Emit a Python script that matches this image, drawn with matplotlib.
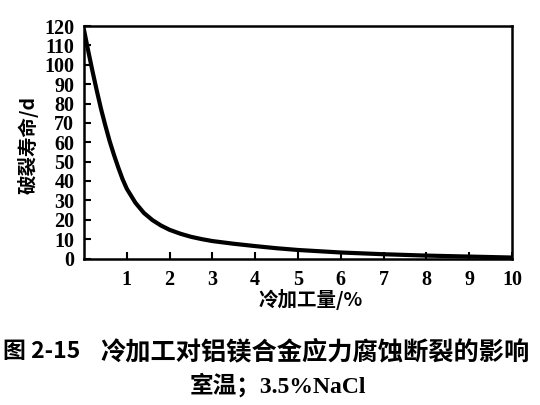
import matplotlib
matplotlib.use("Agg")
import matplotlib.pyplot as plt

plt.rcParams['font.family'] = ['Liberation Serif', 'Noto Sans CJK SC', 'DejaVu Sans']

# Data
cold_work = [0.0, 0.1, 0.2, 0.3, 0.4, 0.5, 0.6, 0.7, 0.8, 0.9, 1.0, 1.2, 1.4, 1.6, 1.8,
             2.0, 2.25, 2.5, 2.75, 3.0, 3.5, 4.0, 4.5, 5.0, 6.0, 7.0, 8.0, 9.0, 10.0]
life_days = [118, 107, 96.5, 86.5, 77, 68.5, 60.5, 53.5, 47, 41, 36, 28.8, 23.5, 19.8, 17,
             14.8, 12.8, 11.2, 10, 9.0, 7.6, 6.4, 5.3, 4.4, 3.1, 2.2, 1.5, 1.0, 0.5]

xticks = [1, 2, 3, 4, 5, 6, 7, 8, 9, 10]
yticks = [0, 10, 20, 30, 40, 50, 60, 70, 80, 90, 100, 110, 120]

xlabel = "冷加工量/%"
ylabel = "破裂寿命/d"
caption_num = "图 2-15"
caption_title = "冷加工对铝镁合金应力腐蚀断裂的影响"
caption_cond = "室温；3.5%NaCl"

fig = plt.figure(figsize=(5.4, 4.05), dpi=100)
ax = fig.add_axes([84/540, 1-258.5/405, (512-84)/540, (258.5-26)/405])

ax.plot(cold_work, life_days, color='black', linewidth=3.0,
        solid_capstyle='round', solid_joinstyle='round')
ax.set_xlim(0, 10)
ax.set_ylim(0, 120)
ax.set_xticks(xticks)
ax.set_yticks(yticks)
ax.set_xticklabels([str(t) for t in xticks], fontsize=14.5, fontweight='bold')
ax.set_yticklabels([str(t) for t in yticks], fontsize=14.5, fontweight='bold')
ax.tick_params(axis='both', direction='in', length=5, width=1.5, colors='black')
ax.tick_params(axis='x', pad=8)
ax.tick_params(axis='y', pad=7)
for s in ax.spines.values():
    s.set_linewidth(1.8)

fig.text(311/540, 1-300/405, xlabel, ha='center', va='center', fontsize=14,
         fontweight='bold', family=['Noto Sans CJK SC', 'DejaVu Sans'])
fig.text(28/540, 1-145/405, ylabel, ha='center', va='center', fontsize=14,
         fontweight='bold', rotation=90, family=['Noto Sans CJK SC', 'DejaVu Sans'])

fig.text(3/540, 1-352/405, caption_num, ha='left', va='center', fontsize=16.5,
         fontweight='bold', family=['Noto Sans CJK SC', 'DejaVu Sans'])
fig.text(530/540, 1-352/405, caption_title, ha='right', va='center', fontsize=18.2,
         fontweight='bold', family=['Noto Sans CJK SC', 'DejaVu Sans'])
fig.text(278/540, 1-385/405, caption_cond, ha='center', va='center', fontsize=17,
         fontweight='bold', family=['Liberation Serif', 'Noto Sans CJK SC', 'DejaVu Sans'])

fig.savefig("out.png", dpi=100)
